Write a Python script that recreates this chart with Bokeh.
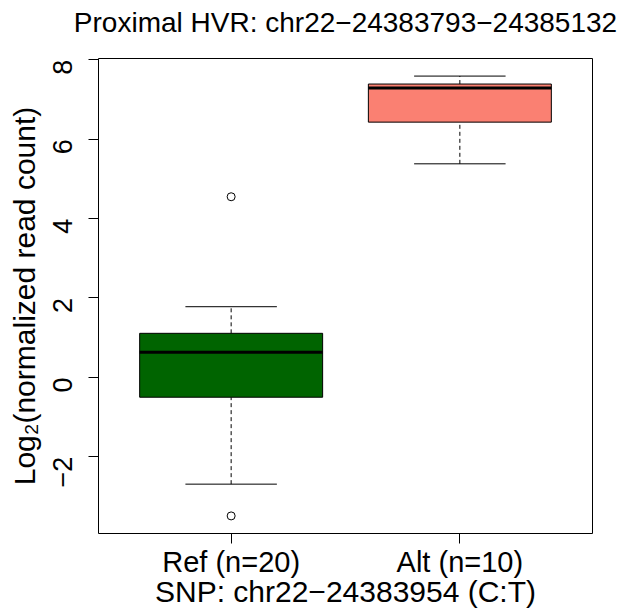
import math
from bokeh.plotting import figure
from bokeh.models import Range1d, FixedTicker, ColumnDataSource, Title
from bokeh.embed import file_html
from bokeh.resources import INLINE

# ---- data ----
categories = ["Ref (n=20)", "Alt (n=10)"]
box_colors = ["#006400", "#FA8072"]
q1 = [-0.50, 6.43]
median = [0.63, 7.29]
q3 = [1.11, 7.39]
lower_whisker = [-2.69, 5.38]
upper_whisker = [1.78, 7.59]
outlier_group = [1, 1]          # index into categories
outlier_value = [4.55, -3.49]
y_ticks = [-2, 0, 2, 4, 6, 8]
title_text = "Proximal HVR: chr22\u221224383793\u221224385132"
x_label = "SNP: chr22\u221224383954 (C:T)"
y_label = "Log\u2082(normalized read count)"

FONT = "Liberation Sans"

xs = list(range(1, len(categories) + 1))
src = ColumnDataSource(dict(x=xs, q1=q1, med=median, q3=q3, lo=lower_whisker,
                            hi=upper_whisker, color=box_colors))

# R-style 4% padding of ranges
ymin = min(lower_whisker + outlier_value)
ymax = max(upper_whisker + outlier_value)
pad = (ymax - ymin) * 0.04
xpad = (len(categories) + 0.5 - 0.5) * 0.04
x_lo, x_hi = 0.5 - xpad, len(categories) + 0.5 + xpad
y_lo, y_hi = ymin - pad, ymax + pad

p = figure(width=619, height=613, output_backend="svg", toolbar_location=None,
           x_range=Range1d(x_lo, x_hi), y_range=Range1d(y_lo, y_hi),
           min_border_left=98, min_border_right=27, min_border_top=58, min_border_bottom=80)
p.xgrid.visible = False
p.ygrid.visible = False
p.outline_line_color = "black"
p.outline_line_width = 1
p.outline_line_alpha = 1.0
p.background_fill_color = "white"
p.border_fill_color = "white"

# spacer between frame and title (pushes the title upward)
p.add_layout(Title(text=" ", text_font_size="1px", standoff=11), "above")

# title
p.title.text = title_text
p.title.align = "center"
p.title.vertical_align = "top"
p.title.text_font = FONT
p.title.text_font_size = "28px"
p.title.text_font_style = "normal"
p.title.text_color = "black"
p.title.standoff = 10

# axes
for ax in (p.xaxis[0], p.yaxis[0]):
    ax.axis_line_color = None
    ax.major_tick_in = 0
    ax.major_tick_out = 10
    ax.major_tick_line_color = "black"
    ax.minor_tick_line_color = None
    ax.major_label_text_font = FONT
    ax.major_label_text_color = "black"
    ax.axis_label_text_font = FONT
    ax.axis_label_text_font_size = "30px"
    ax.axis_label_text_font_style = "normal"
    ax.axis_label_text_color = "black"

p.xaxis.ticker = FixedTicker(ticks=xs)
p.xaxis.major_label_overrides = {x: c for x, c in zip(xs, categories)}
p.xaxis.axis_label = x_label
p.xaxis.major_label_text_font_size = "29px"
p.xaxis.major_label_standoff = 2
p.xaxis.axis_label_standoff = -6

p.yaxis.ticker = FixedTicker(ticks=y_ticks)
p.yaxis.major_label_overrides = {t: str(t).replace("-", "\u2212") for t in y_ticks}
p.yaxis.major_label_orientation = math.pi / 2
p.yaxis.major_label_text_font_size = "27px"
p.yaxis.axis_label = y_label
p.yaxis.major_label_standoff = 26
p.yaxis.axis_label_standoff = 0

# whiskers (dashed)
p.segment(x0="x", y0="q3", x1="x", y1="hi", source=src, line_color="black",
          line_width=1, line_dash="4 3")
p.segment(x0="x", y0="lo", x1="x", y1="q1", source=src, line_color="black",
          line_width=1, line_dash="4 3")
# caps
cap_half = 0.2
src_caps = ColumnDataSource(dict(
    x0=[x - cap_half for x in xs] * 2, x1=[x + cap_half for x in xs] * 2,
    y=upper_whisker + lower_whisker))
p.segment(x0="x0", y0="y", x1="x1", y1="y", source=src_caps, line_color="black", line_width=1)

# boxes
p.vbar(x="x", width=0.8, bottom="q1", top="q3", source=src, fill_color="color",
       line_color="black", line_width=1)
# medians
half = 0.4
src_med = ColumnDataSource(dict(x0=[x - half for x in xs], x1=[x + half for x in xs], y=median))
p.segment(x0="x0", y0="y", x1="x1", y1="y", source=src_med, line_color="black", line_width=3)

# outliers
p.scatter(x=[xs[g - 1] for g in outlier_group], y=outlier_value, size=8, marker="circle",
          fill_color=None, line_color="black", line_width=1)

open("out.html", "w").write(file_html(p, INLINE))
